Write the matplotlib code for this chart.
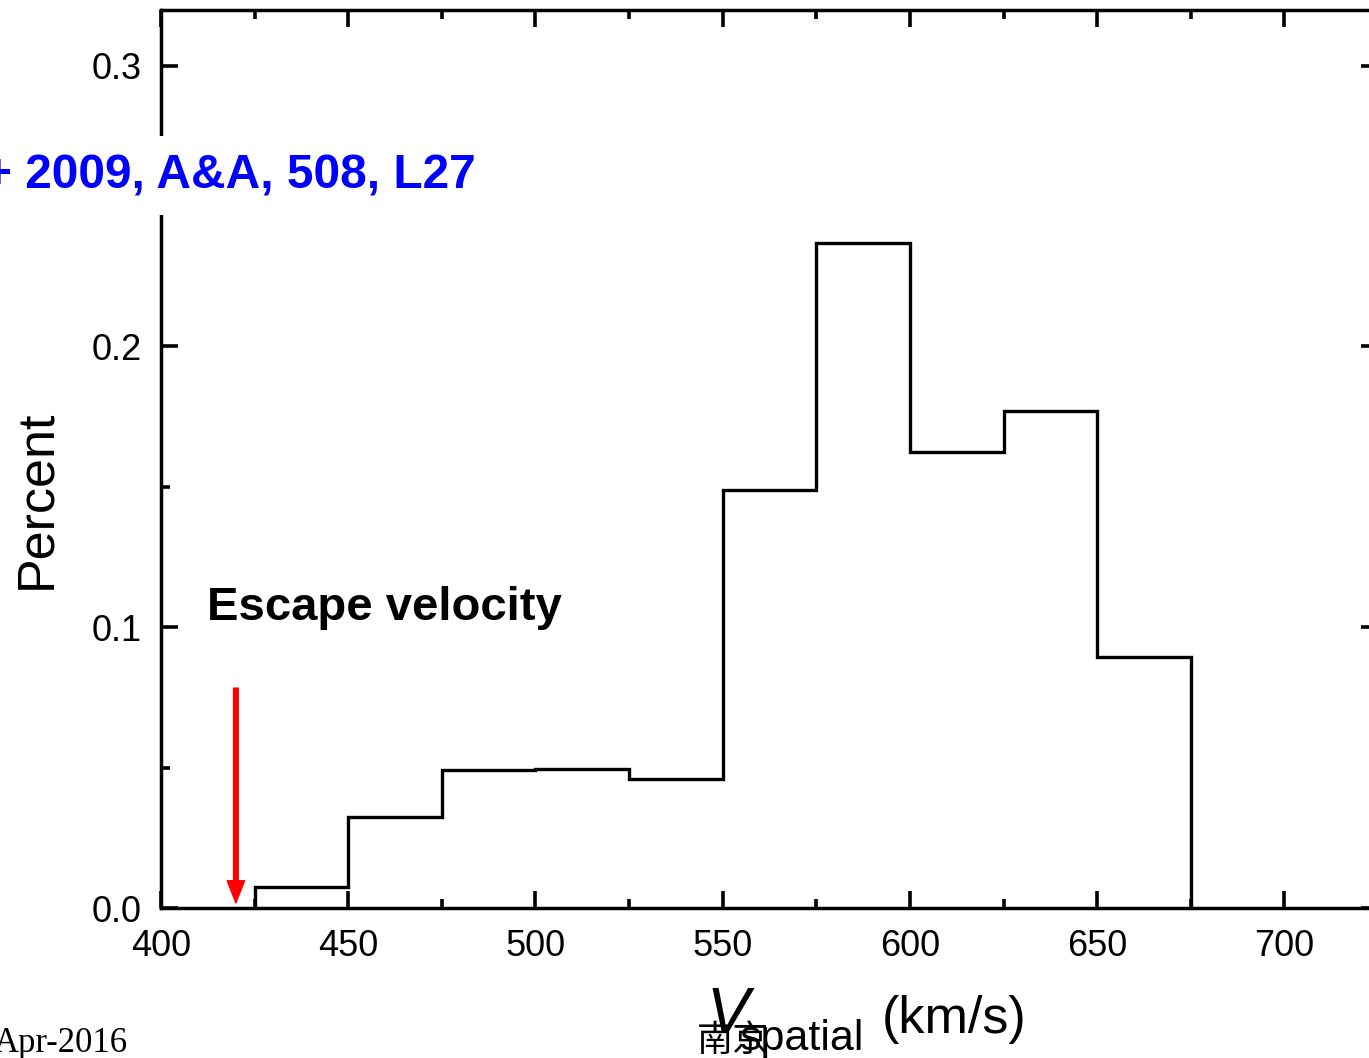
import matplotlib
matplotlib.use("Agg")
import matplotlib.pyplot as plt
import numpy as np
from matplotlib.ticker import MultipleLocator, FixedLocator, FixedFormatter

plt.rcParams['font.family'] = ['Liberation Sans', 'DejaVu Sans']

# Velocity distribution (fraction of stars per 25 km/s bin)
bin_edges = [425, 450, 475, 500, 525, 550, 575, 600, 625, 650, 675]
fractions = [0.0075, 0.0324, 0.049, 0.0495, 0.046, 0.149, 0.2367, 0.1623, 0.1769, 0.0893]
escape_velocity = 420
x_ticks = [400, 450, 500, 550, 600, 650, 700]
y_ticks = [0.0, 0.1, 0.2, 0.3]
y_tick_labels = ["0.0", "0.1", "0.2", "0.3"]

W, H = 1369, 1058
fig = plt.figure(figsize=(W / 100, H / 100), dpi=100)


def fx(px):
    return px / W


def fy(py):
    return 1 - py / H


# axes box in pixels: left 161, right 1378 (runs past the page edge), top 9.5, bottom 908
ax = fig.add_axes([fx(161), fy(908), fx(1378) - fx(161), fy(9.5) - fy(908)])
ax.set_xlim(400, 725)
ax.set_ylim(0, 0.32)

ax.stairs(fractions, bin_edges, baseline=0, fill=False, color='black', lw=2.4)

for s in ax.spines.values():
    s.set_linewidth(2.5)

ax.xaxis.set_major_locator(FixedLocator(x_ticks))
ax.xaxis.set_minor_locator(MultipleLocator(25))
ax.yaxis.set_major_locator(FixedLocator(y_ticks))
ax.yaxis.set_major_formatter(FixedFormatter(y_tick_labels))
ax.yaxis.set_minor_locator(MultipleLocator(0.05))
ax.tick_params(which='both', direction='in', top=True, right=True, width=2.6)
ax.tick_params(which='major', length=12.5, labelsize=26)
ax.tick_params(which='minor', length=6.5)
ax.tick_params(axis='x', which='major', pad=15)
ax.tick_params(axis='y', which='major', pad=14)

# escape velocity marker
ax.annotate('', xy=(escape_velocity, 0.0018), xytext=(escape_velocity, 0.0783),
            arrowprops=dict(width=3.3, headwidth=12.5, headlength=16,
                            color='red', shrink=0))
fig.text(fx(207), fy(620), 'Escape velocity', fontsize=34, fontweight='bold',
         ha='left', va='baseline')

fig.text(fx(476), fy(188), '+ 2009, A&A, 508, L27', fontsize=34.5, fontweight='bold',
         color='#0000ff', ha='right', va='baseline',
         bbox=dict(facecolor='white', edgecolor='none', pad=12))

# axis titles
fig.text(fx(37), fy(499), 'Percent', fontsize=37.5, rotation=90, ha='center', va='center')
fig.text(fx(706), fy(1033), 'V', fontsize=46, style='italic', ha='left', va='baseline')
fig.text(fx(740), fy(1050), 'spatial', fontsize=31, ha='left', va='baseline')
fig.text(fx(882), fy(1033), '(km/s)', fontsize=37.5, ha='left', va='baseline')

# footer
fig.text(fx(128), fy(1052), 'Apr-2016', fontsize=25, family=['Liberation Serif'],
         ha='right', va='baseline')
fig.text(fx(697), fy(1051), '南京', fontsize=26, family=['Noto Sans CJK SC'],
         ha='left', va='baseline')

fig.savefig('out.png', dpi=100)
